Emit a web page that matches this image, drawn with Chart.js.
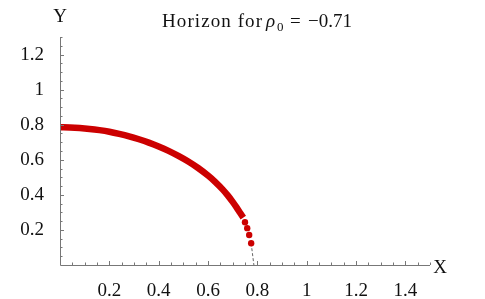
<!DOCTYPE html>
<html>
<head>
<meta charset="utf-8">
<script src="https://cdn.jsdelivr.net/npm/chart.js@4/dist/chart.umd.min.js"></script>
<style>
html,body{margin:0;padding:0;background:#fff;}
#wrap{width:485px;height:299px;position:relative;}
</style>
</head>
<body>
<div id="wrap"><canvas id="c"></canvas></div>
<script>
// Horizon curve (continuous part)
const mainX = [0, 0.04, 0.08, 0.12, 0.16, 0.20, 0.24, 0.28, 0.32, 0.36, 0.40, 0.44, 0.48, 0.52, 0.56, 0.60, 0.63, 0.66, 0.68, 0.70, 0.715, 0.73, 0.743];
const mainY = [0.785, 0.784, 0.781, 0.776, 0.769, 0.760, 0.748, 0.734, 0.717, 0.698, 0.676, 0.651, 0.622, 0.590, 0.553, 0.510, 0.473, 0.430, 0.397, 0.360, 0.330, 0.298, 0.270];
// Separate dots near the end
const tailX = [0.750, 0.759, 0.767, 0.775];
const tailY = [0.244, 0.210, 0.171, 0.124];
// Dashed continuation to the axis
const dashX = [0.775, 0.786];
const dashY = [0.124, 0];
// Tick labels
const xTicks = [0.2, 0.4, 0.6, 0.8, 1, 1.2, 1.4];
const yTicks = [0.2, 0.4, 0.6, 0.8, 1, 1.2];
const titleParts = {pre: "Horizon for", sym: "ρ", sub: "0", eq: "=", post: "−0.71"};

const RED = '#cc0000';
const FONT = '"Liberation Serif", "DejaVu Serif", serif';

const zip = (xs, ys) => xs.map((x, i) => ({x, y: ys[i]}));

const fmt = v => {
  const r = Math.round(v * 10) / 10;
  return String(r);
};

const axesPlugin = {
  id: 'axesPlugin',
  afterDatasetsDraw(chart) {
    const {ctx, chartArea: a, scales: {x, y}} = chart;
    ctx.save();
    ctx.strokeStyle = '#777';
    ctx.lineWidth = 1;
    ctx.beginPath();
    ctx.moveTo(a.left + 0.5, a.top);
    ctx.lineTo(a.left + 0.5, a.bottom + 0.5);
    ctx.lineTo(a.right, a.bottom + 0.5);
    ctx.stroke();
    // ticks drawn inward
    ctx.beginPath();
    for (let i = 1; i <= 30; i++) {
      const v = i * 0.05;
      if (v > 1.5 + 1e-9) break;
      const px = Math.round(x.getPixelForValue(v)) + 0.5;
      const major = i % 4 === 0;
      ctx.moveTo(px, a.bottom);
      ctx.lineTo(px, a.bottom - (major ? 4 : 2.5));
    }
    for (let i = 1; i <= 26; i++) {
      const v = i * 0.05;
      if (v > 1.3 + 1e-9) break;
      const py = Math.round(y.getPixelForValue(v)) + 0.5;
      const major = i % 4 === 0;
      ctx.moveTo(a.left, py);
      ctx.lineTo(a.left + (major ? 4 : 2.5), py);
    }
    ctx.stroke();
    // axis labels
    ctx.fillStyle = '#111';
    ctx.font = '19px ' + FONT;
    ctx.textBaseline = 'middle';
    ctx.textAlign = 'center';
    ctx.fillText('Y', 60, 17);
    ctx.fillText('X', 440, 268);
    // title with subscript, pieces placed as in the reference
    ctx.textAlign = 'left';
    ctx.textBaseline = 'alphabetic';
    const base = 26.5;
    ctx.font = '19px ' + FONT;
    const wPre = ctx.measureText(titleParts.pre).width;
    if ('letterSpacing' in ctx) {
      ctx.letterSpacing = Math.max(0, (101 - wPre) / titleParts.pre.length).toFixed(2) + 'px';
    }
    ctx.fillText(titleParts.pre, 162, base);
    if ('letterSpacing' in ctx) ctx.letterSpacing = '0px';
    ctx.font = 'italic 19px ' + FONT;
    ctx.fillText(titleParts.sym, 266, base);
    ctx.font = '13px ' + FONT;
    ctx.fillText(titleParts.sub, 277, base + 4);
    ctx.font = '19px ' + FONT;
    ctx.fillText(titleParts.eq, 290, base);
    ctx.fillText(titleParts.post, 308, base);
    ctx.restore();
  }
};

new Chart(document.getElementById('c'), {
  type: 'scatter',
  data: {
    datasets: [
      {
        data: zip(dashX, dashY),
        showLine: true,
        borderColor: '#666',
        borderWidth: 1,
        borderDash: [3, 2],
        pointRadius: 0,
        order: 3
      },
      {
        data: zip(mainX, mainY),
        showLine: true,
        borderColor: RED,
        borderWidth: 6.5,
        cubicInterpolationMode: 'monotone',
        pointRadius: 0,
        order: 2
      },
      {
        data: zip(tailX, tailY),
        showLine: false,
        backgroundColor: RED,
        borderColor: RED,
        borderWidth: 0,
        pointRadius: 3.2,
        order: 1
      }
    ]
  },
  options: {
    responsive: true,
    maintainAspectRatio: false,
    animation: false,
    devicePixelRatio: 1,
    layout: {padding: {top: 37, right: 55, left: 0, bottom: 0}},
    plugins: {legend: {display: false}, tooltip: {enabled: false}, title: {display: false}},
    scales: {
      x: {
        type: 'linear',
        min: 0, max: 1.5,
        afterBuildTicks: s => { s.ticks = xTicks.map(v => ({value: v})); },
        afterFit: s => { s.height = 34; },
        grid: {display: false},
        border: {display: false},
        ticks: {
          callback: v => fmt(v),
          font: {family: FONT, size: 19},
          color: '#111',
          padding: 7,
          maxRotation: 0,
          autoSkip: false
        }
      },
      y: {
        type: 'linear',
        min: 0, max: 1.3,
        afterBuildTicks: s => { s.ticks = yTicks.map(v => ({value: v})); },
        afterFit: s => { s.width = 60; },
        grid: {display: false},
        border: {display: false},
        ticks: {
          callback: v => fmt(v),
          font: {family: FONT, size: 19},
          color: '#111',
          padding: 8,
          autoSkip: false
        }
      }
    }
  },
  plugins: [axesPlugin]
});
</script>
</body>
</html>
